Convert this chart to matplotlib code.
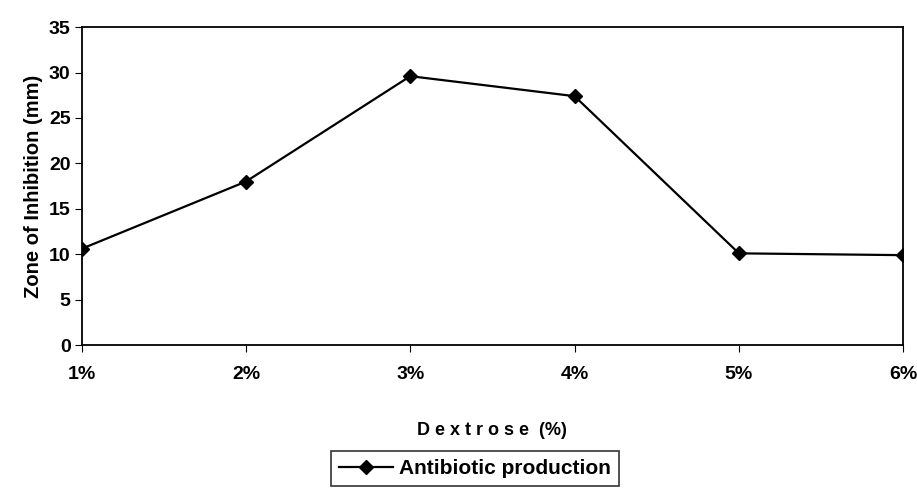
import matplotlib.pyplot as plt

# Dextrose concentration vs zone of inhibition
dextrose = ['1%', '2%', '3%', '4%', '5%', '6%']
inhibition = [10.6, 18.0, 29.6, 27.4, 10.1, 9.9]
y_ticks = [0, 5, 10, 15, 20, 25, 30, 35]

plt.rcParams['font.family'] = ['Liberation Sans', 'DejaVu Sans']
plt.rcParams['font.weight'] = 'bold'

fig = plt.figure(figsize=(9.17, 4.93), dpi=100)
ax = fig.add_axes([0.089, 0.30, 0.896, 0.645])

x = list(range(len(dextrose)))
ax.plot(x, inhibition, color='black', linewidth=1.6, marker='D',
        markersize=7, label='Antibiotic production')

ax.set_xlim(0, len(dextrose) - 1)
ax.set_ylim(0, 35)
ax.set_xticks(x)
ax.set_xticklabels(dextrose, fontsize=14, fontweight='bold')
ax.set_yticks(y_ticks)
ax.set_yticklabels([str(v) for v in y_ticks], fontsize=14, fontweight='bold')
ax.tick_params(axis='x', direction='out', length=5, pad=10, color='black')
ax.tick_params(axis='y', direction='out', length=5, pad=3, color='black')
for s in ax.spines.values():
    s.set_linewidth(1.3)
    s.set_color('black')

ax.set_ylabel('Zone of Inhibition (mm)', fontsize=14.5, fontweight='bold', labelpad=4)
ax.set_xlabel('D e x t r o s e  (%)', fontsize=13, fontweight='bold', labelpad=28)

leg = fig.legend(loc='center', bbox_to_anchor=(0.518, 0.05), frameon=True,
                 fancybox=False, edgecolor='black',
                 handlelength=2.6, handletextpad=0.3, borderpad=0.4,
                 prop={'weight': 'bold', 'size': 15})
leg.get_frame().set_linewidth(1.2)

fig.savefig('out.png', dpi=100)
